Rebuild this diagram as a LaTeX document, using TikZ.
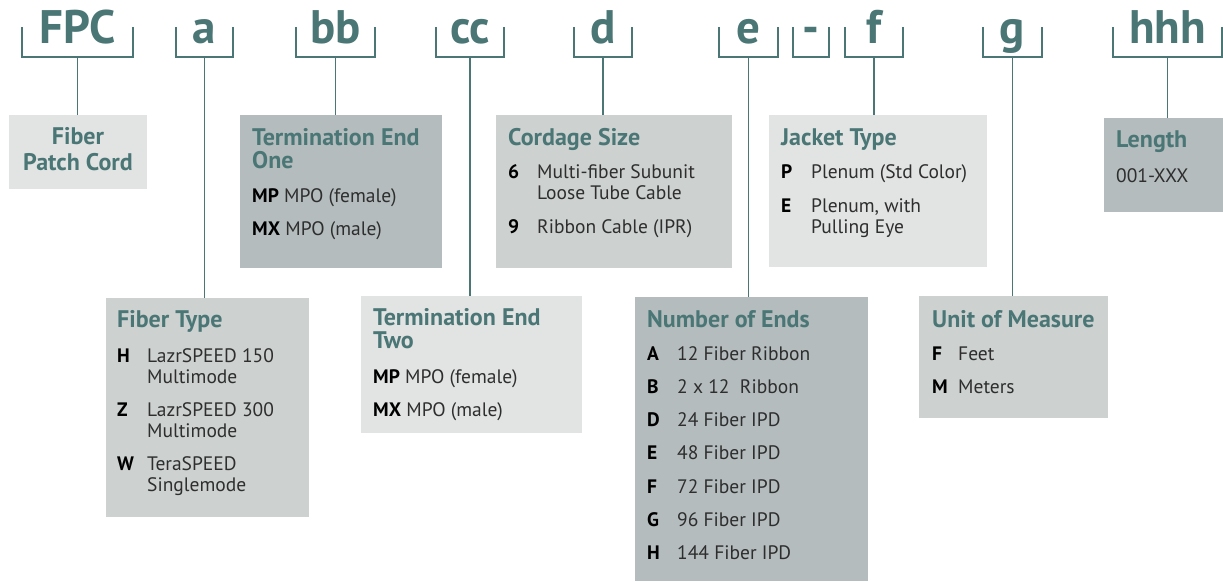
\documentclass[tikz,border=0pt]{standalone}
\usepackage{fontspec}
\setmainfont{PT Sans}
\usepackage{array}
\usepackage{xcolor}
\definecolor{codeteal}{HTML}{4A7675}
\definecolor{boxlight}{HTML}{E2E4E3}
\definecolor{boxmid}{HTML}{CDD1D0}
\definecolor{boxdark}{HTML}{B4BCBD}
\definecolor{bodytext}{HTML}{2E2E2E}

\begin{document}
\begin{tikzpicture}[x=1pt,y=-1pt,
  code/.style={font=\fontsize{47}{47}\selectfont\bfseries, text=codeteal,
    inner sep=0pt, outer sep=0pt, anchor=base, text depth=14pt},
  brk/.style={draw=codeteal, line width=2.6pt},
  stem/.style={draw=codeteal, line width=1.3pt},
  field/.style={anchor=north west, inner sep=0pt, outer sep=0pt},
  list/.style={anchor=base west, inner sep=0pt, align=left,
    font=\fontsize{19.5}{21}\selectfont, text=bodytext}]

\useasboundingbox (0,0) rectangle (1223,581);

% Code letters with brackets
\node[code, minimum width=111pt] (fpc) at (77.5,43) {FPC};
\node[code, minimum width=57pt] (ca) at (204.5,43) {a};
\node[code, minimum width=79pt] (cb) at (335.5,43) {bb};
\node[code, minimum width=68pt] (cc) at (470,43) {cc};
\node[code, minimum width=58pt] (cd) at (603,43) {d};
\node[code, minimum width=59pt] (ce) at (748.5,43) {e};
\node[code, minimum width=36pt] (cdash) at (811,43) {-};
\node[code, minimum width=58pt] (cf) at (874,43) {f};
\node[code, minimum width=59pt] (cg) at (1012.5,43) {g};
\node[code, minimum width=109pt] (ch) at (1167.5,43) {hhh};

\draw[brk] ([yshift=30pt]fpc.south west) -- (fpc.south west) -- (fpc.south east) -- ([yshift=30pt]fpc.south east);
\draw[brk] ([yshift=30pt]ca.south west) -- (ca.south west) -- (ca.south east) -- ([yshift=30pt]ca.south east);
\draw[brk] ([yshift=30pt]cb.south west) -- (cb.south west) -- (cb.south east) -- ([yshift=30pt]cb.south east);
\draw[brk] ([yshift=30pt]cc.south west) -- (cc.south west) -- (cc.south east) -- ([yshift=30pt]cc.south east);
\draw[brk] ([yshift=30pt]cd.south west) -- (cd.south west) -- (cd.south east) -- ([yshift=30pt]cd.south east);
\draw[brk] ([yshift=30pt]ce.south west) -- (ce.south west) -- (ce.south east) -- ([yshift=30pt]ce.south east);
\draw[brk] ([yshift=30pt]cdash.south west) -- (cdash.south west) -- (cdash.south east) -- ([yshift=30pt]cdash.south east);
\draw[brk] ([yshift=30pt]cf.south west) -- (cf.south west) -- (cf.south east) -- ([yshift=30pt]cf.south east);
\draw[brk] ([yshift=30pt]cg.south west) -- (cg.south west) -- (cg.south east) -- ([yshift=30pt]cg.south east);
\draw[brk] ([yshift=30pt]ch.south west) -- (ch.south west) -- (ch.south east) -- ([yshift=30pt]ch.south east);

% Field boxes
\node[field, fill=boxlight, minimum width=138pt, minimum height=74pt] (fpcbox) at (9,115) {};
\node[field, fill=boxdark, minimum width=202pt, minimum height=153pt] (end1) at (240,115) {};
\node[field, fill=boxmid, minimum width=236pt, minimum height=153pt] (cordage) at (496,115) {};
\node[field, fill=boxlight, minimum width=218pt, minimum height=152pt] (jacket) at (769,115) {};
\node[field, fill=boxdark, minimum width=119pt, minimum height=94pt] (length) at (1104,118) {};
\node[field, fill=boxmid, minimum width=203pt, minimum height=219pt] (ftype) at (106,298) {};
\node[field, fill=boxlight, minimum width=221pt, minimum height=137pt] (end2) at (361,296) {};
\node[field, fill=boxdark, minimum width=233pt, minimum height=284pt] (ends) at (635,297) {};
\node[field, fill=boxmid, minimum width=189pt, minimum height=122pt] (unit) at (919,296) {};

% Stems
\draw[stem] (fpc.south) -- (fpc.south |- fpcbox.north);
\draw[stem] (ca.south) -- (ca.south |- ftype.north);
\draw[stem] (cb.south) -- (cb.south |- end1.north);
\draw[stem] (cc.south) -- (cc.south |- end2.north);
\draw[stem] (cd.south) -- (cd.south |- cordage.north);
\draw[stem] (ce.south) -- (ce.south |- ends.north);
\draw[stem] (cf.south) -- (cf.south |- jacket.north);
\draw[stem] (cg.south) -- (cg.south |- unit.north);
\draw[stem] (ch.south) -- (ch.south |- length.north);

% Box texts
\node[anchor=base, inner sep=0pt, font=\fontsize{24}{26}\selectfont\bfseries, text=codeteal] (fpctxt) at (78,144)
  {\begin{tabular}[t]{@{}c@{}}Fiber\\Patch Cord\end{tabular}};

\node[list] (end1txt) at (252,145)
  {\begin{tabular}[t]{@{}l@{}}
   \textcolor{codeteal}{\fontsize{24}{21}\selectfont\bfseries Termination End}\\
   \textcolor{codeteal}{\fontsize{24}{21}\selectfont\bfseries One}\\[13pt]
   \textbf{\color{black}MP} MPO (female)\\[12pt]
   \textbf{\color{black}MX} MPO (male)
   \end{tabular}};

\node[list] (cordagetxt) at (508,145)
  {\begin{tabular}[t]{@{}p{29pt}@{}l@{}}
   \multicolumn{2}{@{}l@{}}{\textcolor{codeteal}{\fontsize{24}{21}\selectfont\bfseries Cordage Size}}\\[12pt]
   \textbf{\color{black}6} & Multi-fiber Subunit\\
   & Loose Tube Cable\\[13pt]
   \textbf{\color{black}9} & Ribbon Cable (IPR)
   \end{tabular}};

\node[list] (jackettxt) at (781,145)
  {\begin{tabular}[t]{@{}p{30pt}@{}l@{}}
   \multicolumn{2}{@{}l@{}}{\textcolor{codeteal}{\fontsize{24}{21}\selectfont\bfseries Jacket Type}}\\[12pt]
   \textbf{\color{black}P} & Plenum (Std Color)\\[13pt]
   \textbf{\color{black}E} & Plenum, with\\
   & Pulling Eye
   \end{tabular}};

\node[list] (lengthtxt) at (1116,147)
  {\begin{tabular}[t]{@{}l@{}}
   \textcolor{codeteal}{\fontsize{24}{21}\selectfont\bfseries Length}\\[14pt]
   001-XXX
   \end{tabular}};

\node[list] (ftypetxt) at (117,327)
  {\begin{tabular}[t]{@{}p{30pt}@{}l@{}}
   \multicolumn{2}{@{}l@{}}{\textcolor{codeteal}{\fontsize{24}{21}\selectfont\bfseries Fiber Type}}\\[14pt]
   \textbf{\color{black}H} & LazrSPEED 150\\
   & Multimode\\[12pt]
   \textbf{\color{black}Z} & LazrSPEED 300\\
   & Multimode\\[12pt]
   \textbf{\color{black}W} & TeraSPEED\\
   & Singlemode
   \end{tabular}};

\node[list] (end2txt) at (373,325)
  {\begin{tabular}[t]{@{}l@{}}
   \textcolor{codeteal}{\fontsize{24}{21}\selectfont\bfseries Termination End}\\
   \textcolor{codeteal}{\fontsize{24}{21}\selectfont\bfseries Two}\\[14pt]
   \textbf{\color{black}MP} MPO (female)\\[12pt]
   \textbf{\color{black}MX} MPO (male)
   \end{tabular}};

\node[list] (endstxt) at (647,327)
  {\begin{tabular}[t]{@{}p{30pt}@{}l@{}}
   \multicolumn{2}{@{}l@{}}{\textcolor{codeteal}{\fontsize{24}{21}\selectfont\bfseries Number of Ends}}\\[12pt]
   \textbf{\color{black}A} & 12 Fiber Ribbon\\[12.3pt]
   \textbf{\color{black}B} & 2 x 12\ \ Ribbon\\[12.3pt]
   \textbf{\color{black}D} & 24 Fiber IPD\\[12.3pt]
   \textbf{\color{black}E} & 48 Fiber IPD\\[12.3pt]
   \textbf{\color{black}F} & 72 Fiber IPD\\[12.3pt]
   \textbf{\color{black}G} & 96 Fiber IPD\\[12.3pt]
   \textbf{\color{black}H} & 144 Fiber IPD
   \end{tabular}};

\node[list] (unittxt) at (932,327)
  {\begin{tabular}[t]{@{}p{26pt}@{}l@{}}
   \multicolumn{2}{@{}l@{}}{\textcolor{codeteal}{\fontsize{24}{21}\selectfont\bfseries Unit of Measure}}\\[12pt]
   \textbf{\color{black}F} & Feet\\[12pt]
   \textbf{\color{black}M} & Meters
   \end{tabular}};

\end{tikzpicture}
\end{document}
